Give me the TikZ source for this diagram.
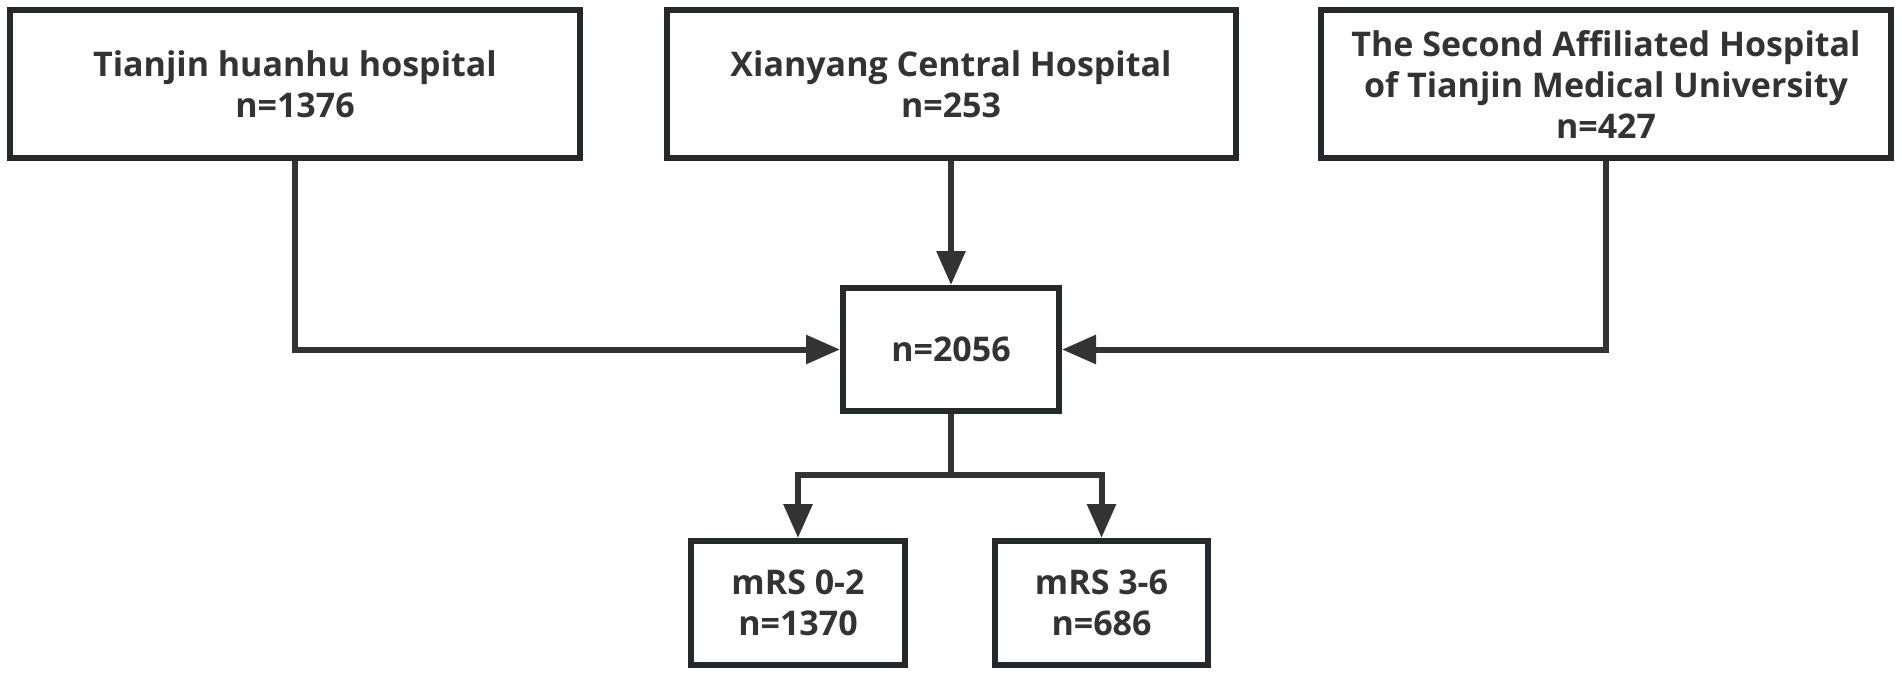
\documentclass[tikz,border=0pt]{standalone}
\usepackage{fontspec}
\setmainfont{Open Sans}
\usepackage{xcolor}
\usetikzlibrary{arrows.meta}
\definecolor{boxgray}{RGB}{36,41,46}
\definecolor{flowgray}{RGB}{51,51,51}

\begin{document}
\begin{tikzpicture}[x=0.5pt, y=-0.5pt,
    box/.style={draw=boxgray, line width=3pt, rectangle, align=center, inner sep=0pt,
        text=flowgray, font=\fontsize{17}{20.5}\selectfont\bfseries},
    flow/.style={draw=flowgray, line width=3pt, -{Triangle[length=17pt, width=14pt]}}]
    \useasboundingbox (0,0) rectangle (1902,676);
    % sites
    \node[box, minimum width=285pt, minimum height=74pt] (huanhu) at (295,84) {Tianjin huanhu hospital\\n=1376};
    \node[box, minimum width=284.5pt, minimum height=74pt] (xianyang) at (951,84) {Xianyang Central Hospital\\n=253};
    \node[box, minimum width=285pt, minimum height=74pt] (tmu) at (1606,84) {The Second Affiliated Hospital\\of Tianjin Medical University\\n=427};
    % pooled cohort
    \node[box, minimum width=108pt, minimum height=61.5pt] (total) at (951,349.5) {n=2056};
    % outcome groups
    \node[box, minimum width=107pt, minimum height=62pt] (good) at (798,603) {mRS 0-2\\n=1370};
    \node[box, minimum width=106.5pt, minimum height=62pt] (poor) at (1101.5,603) {mRS 3-6\\n=686};
    \coordinate (split) at (951,475);

    \draw[flow] (huanhu.south) |- (total.west);
    \draw[flow] (xianyang.south) -- (total.north);
    \draw[flow] (tmu.south) |- (total.east);
    \draw[flow] (total.south) -- (split) -| (good.north);
    \draw[flow] (split) -| (poor.north);
\end{tikzpicture}
\end{document}
